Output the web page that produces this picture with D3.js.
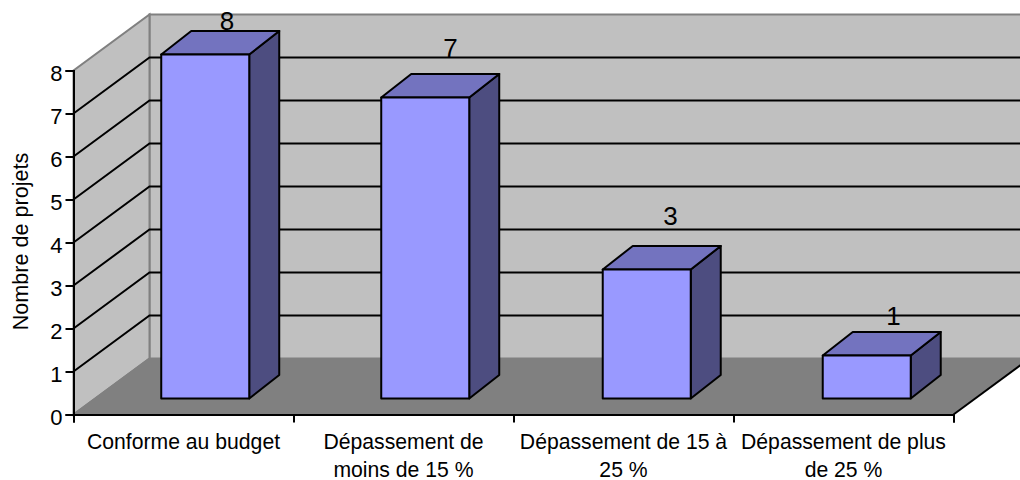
<!DOCTYPE html>
<html>
<head>
<meta charset="utf-8">
<script src="https://cdn.jsdelivr.net/npm/d3@7"></script>
<style>
  html, body { margin: 0; padding: 0; background: #fff; }
  svg { display: block; font-family: "Liberation Sans", Arial, sans-serif; fill: #000; }
</style>
</head>
<body>
<div id="chart"></div>
<script>
// Budget overrun categories and number of projects in each
const categories = [
  "Conforme au budget",
  "Dépassement de\nmoins de 15 %",
  "Dépassement de 15 à\n25 %",
  "Dépassement de plus\nde 25 %"
];
const projectCounts = [8, 7, 3, 1];
const yTicks = [0, 1, 2, 3, 4, 5, 6, 7, 8];
const yTitle = "Nombre de projets";

const width = 1020, height = 480;
const svg = d3.select("#chart").append("svg").attr("width", width).attr("height", height);

// Front plane of the 3D box
const y = d3.scaleLinear().domain([0, 8]).range([414.5, 70.5]);
const x = d3.scaleLinear().domain([0, categories.length]).range([73.5, 953.5]);

// Oblique projection: depth 0 (front) to 1 (back wall)
const depthX = d3.scaleLinear().domain([0, 1]).range([0, 76]);
const depthY = d3.scaleLinear().domain([0, 1]).range([0, -56]);
const project = (i, v, d) => [x(i) + depthX(d), y(v) + depthY(d)];
const poly = pts => d3.line()(pts) + "Z";

const WALL = "#c0c0c0", FLOOR = "#808080", EDGE = "#808080";
const nCat = categories.length;

// Back wall
svg.append("path")
  .attr("d", poly([project(0, 0, 1), project(0, 8, 1), project(nCat, 8, 1), project(nCat, 0, 1)]))
  .attr("fill", WALL).attr("stroke", EDGE).attr("stroke-width", 2);

// Side wall
svg.append("path")
  .attr("d", poly([project(0, 0, 0), project(0, 8, 0), project(0, 8, 1), project(0, 0, 1)]))
  .attr("fill", WALL).attr("stroke", EDGE).attr("stroke-width", 2);

// Floor and its two receding edges
svg.append("path")
  .attr("d", poly([project(0, 0, 0), project(nCat, 0, 0), project(nCat, 0, 1), project(0, 0, 1)]))
  .attr("fill", FLOOR);
svg.append("path")
  .attr("d", d3.line()([project(0, 0, 0), project(0, 0, 1)]))
  .attr("stroke", EDGE).attr("stroke-width", 2).attr("fill", "none");
svg.append("path")
  .attr("d", d3.line()([project(nCat, 0, 0), project(nCat, 0, 1)]))
  .attr("stroke", "#000").attr("stroke-width", 2).attr("fill", "none");

// Gridlines running along the side wall and across the back wall
svg.append("g").selectAll("path")
  .data(yTicks.filter(v => v > 0 && v < 8))
  .join("path")
  .attr("d", v => d3.line()([project(0, v, 0), project(0, v, 1), project(nCat, v, 1)]))
  .attr("fill", "none").attr("stroke", "#000").attr("stroke-width", 2);

// Boxes: front, top and side faces
const barLeft = 0.3, barRight = 0.7, barDepth = 0.286;
const boxDx = 30, boxDy = -23.5;
const barShift = [0, 0, 1.5, 1.5];
const corner = (i, frac, v) => {
  const [px, py] = project(i + frac, v, barDepth);
  return [px + barShift[i], py];
};
const back = ([px, py]) => [px + boxDx, py + boxDy];

const bars = svg.append("g").selectAll("g")
  .data(projectCounts)
  .join("g")
  .attr("stroke", "#000").attr("stroke-width", 2).attr("stroke-linejoin", "round");

bars.append("path").attr("fill", "#4d4d80").attr("d", (v, i) => {
  const a = corner(i, barRight, 0), b = corner(i, barRight, v);
  return poly([a, b, back(b), back(a)]);
});
bars.append("path").attr("fill", "#7373bf").attr("d", (v, i) => {
  const a = corner(i, barLeft, v), b = corner(i, barRight, v);
  return poly([a, b, back(b), back(a)]);
});
bars.append("path").attr("fill", "#9999ff").attr("d", (v, i) => {
  return poly([corner(i, barLeft, 0), corner(i, barRight, 0), corner(i, barRight, v), corner(i, barLeft, v)]);
});

// Value labels above each box, lifted by hand to clear the gridlines
const labelDx = [43.5, 47, 47, 50];
const labelLift = [40.5, 56.5, 60.5, 46.5];
svg.append("g").selectAll("text")
  .data(projectCounts)
  .join("text")
  .attr("x", (v, i) => x(i + 0.5) + labelDx[i])
  .attr("y", (v, i) => y(v) - labelLift[i])
  .attr("text-anchor", "middle")
  .attr("font-size", 26)
  .text(v => v);

// Value axis
const yAxis = d3.axisLeft(y).tickValues(yTicks).tickSize(8).tickPadding(3).tickFormat(d3.format("d"));
const yG = svg.append("g").attr("transform", "translate(73.5,0)").call(yAxis);
yG.select(".domain").attr("stroke-width", 2).attr("stroke", "#000");
yG.selectAll(".tick line").attr("stroke-width", 2).attr("stroke", "#000");
yG.selectAll(".tick text")
  .attr("font-size", 22).attr("font-family", "inherit").attr("fill", "#000").attr("dy", "0.47em");

// Category axis, ticks at category boundaries
const xAxis = d3.axisBottom(x).tickValues(d3.range(nCat + 1)).tickSize(8).tickFormat("");
const xG = svg.append("g").attr("transform", "translate(0,414.5)").call(xAxis);
xG.select(".domain").attr("stroke-width", 2).attr("stroke", "#000");
xG.selectAll(".tick line").attr("stroke-width", 2).attr("stroke", "#000");

// Category labels, wrapped on their explicit line breaks
const catText = svg.append("g").selectAll("text")
  .data(categories)
  .join("text")
  .attr("x", (c, i) => x(i + 0.5))
  .attr("y", 449)
  .attr("text-anchor", "middle")
  .attr("font-size", 21.2);
catText.selectAll("tspan")
  .data(c => c.split("\n"))
  .join("tspan")
  .attr("x", function () { return d3.select(this.parentNode).attr("x"); })
  .attr("dy", (s, j) => j ? 28 : 0)
  .text(s => s);

// Axis title
svg.append("text")
  .attr("transform", `translate(27.5,${y(4) - 1}) rotate(-90)`)
  .attr("text-anchor", "middle")
  .attr("font-size", 21.6)
  .text(yTitle);
</script>
</body>
</html>
